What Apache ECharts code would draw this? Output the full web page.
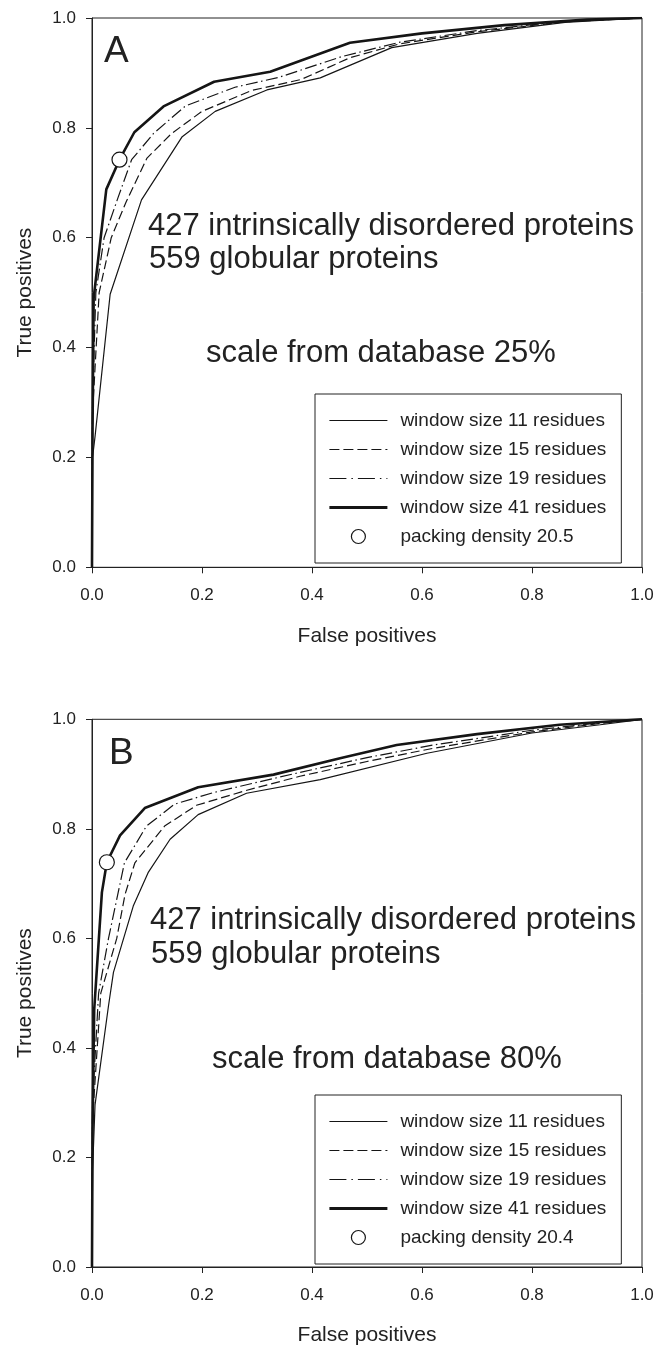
<!DOCTYPE html>
<html>
<head>
<meta charset="utf-8">
<script src="https://cdn.jsdelivr.net/npm/echarts@6/dist/echarts.min.js"></script>
<style>
html,body{margin:0;padding:0;background:#fff;}
#chart{width:668px;height:1347px;}
</style>
</head>
<body>
<div id="chart"></div>
<script>
// ---- data (x = false positives, y = true positives) ----
var seriesNames = ['window size 11 residues','window size 15 residues','window size 19 residues','window size 41 residues'];
var packingNameA = 'packing density 20.5';
var packingNameB = 'packing density 20.4';
var xTicks = [0.0, 0.2, 0.4, 0.6, 0.8, 1.0];

// Panel A (scale from database 25%)
var A_w11 = [[0,0],[0.001,0.2],[0.0055,0.238],[0.033,0.497],[0.09,0.669],[0.164,0.784],[0.224,0.830],[0.318,0.869],[0.415,0.891],[0.545,0.946],[0.7,0.972],[0.86,0.992],[1,1]];
var A_w15 = [[0,0],[0.001,0.28],[0.013,0.5],[0.035,0.6],[0.062,0.665],[0.1,0.745],[0.145,0.79],[0.2,0.83],[0.29,0.868],[0.38,0.888],[0.47,0.928],[0.56,0.953],[0.7,0.975],[0.86,0.993],[1,1]];
var A_w19 = [[0,0],[0.001,0.3],[0.007,0.5],[0.022,0.6],[0.047,0.672],[0.072,0.742],[0.112,0.79],[0.17,0.84],[0.26,0.874],[0.34,0.892],[0.455,0.93],[0.56,0.956],[0.7,0.977],[0.86,0.994],[1,1]];
var A_w41 = [[0,0],[0.001,0.25],[0.003,0.49],[0.026,0.688],[0.05,0.742],[0.077,0.792],[0.13,0.839],[0.222,0.884],[0.324,0.902],[0.469,0.955],[0.6,0.972],[0.75,0.987],[0.9,0.997],[1,1]];
var A_packing = [[0.05,0.742]];

// Panel B (scale from database 80%)
var B_w11 = [[0,0],[0.001,0.175],[0.0055,0.296],[0.03,0.477],[0.039,0.538],[0.075,0.659],[0.102,0.72],[0.142,0.781],[0.193,0.826],[0.281,0.865],[0.415,0.89],[0.609,0.938],[0.8,0.975],[0.924,0.99],[1,1]];
var B_w15 = [[0,0],[0.001,0.27],[0.016,0.5],[0.045,0.6],[0.06,0.68],[0.078,0.738],[0.132,0.805],[0.19,0.843],[0.28,0.87],[0.378,0.896],[0.5,0.923],[0.62,0.947],[0.8,0.977],[0.92,0.992],[1,1]];
var B_w19 = [[0,0],[0.001,0.3],[0.012,0.5],[0.03,0.6],[0.059,0.738],[0.099,0.805],[0.15,0.845],[0.22,0.866],[0.3,0.885],[0.378,0.903],[0.5,0.93],[0.62,0.953],[0.8,0.98],[0.92,0.993],[1,1]];
var B_w41 = [[0,0],[0.001,0.25],[0.004,0.47],[0.018,0.684],[0.027,0.739],[0.051,0.788],[0.096,0.838],[0.193,0.876],[0.33,0.899],[0.451,0.929],[0.554,0.953],[0.7,0.973],[0.85,0.99],[1,1]];
var B_packing = [[0.027,0.739]];

// ---- styles ----
var FONT = "'Liberation Sans', Arial, Helvetica, sans-serif";
var INK = '#222';
var LINE = '#151515';
var lineStyles = [
  {width:1.2, type:'solid'},
  {width:1.2, type:[9,4]},
  {width:1.2, type:[12,3.5,1.5,3.5]},
  {width:2.6, type:'solid'}
];
var legendLineStyles = [
  {width:1.2, type:'solid'},
  {width:1.2, type:[10,4]},
  {width:1.2, type:[17,5,1.5,5]},
  {width:2.8, type:'solid'}
];

function axisX(gi){
  return {
    gridIndex: gi, type:'value', min:0, max:1, interval:0.2,
    name:'False positives', nameLocation:'middle', nameGap:58,
    nameTextStyle:{fontFamily:FONT, fontSize:21, color:INK},
    axisLine:{show:true, onZero:false, lineStyle:{color:INK, width:1}},
    axisTick:{show:true, inside:false, length:6, lineStyle:{color:INK}},
    axisLabel:{show:true, margin:20, fontFamily:FONT, fontSize:17, color:INK,
      formatter:function(v){return v.toFixed(1);}},
    splitLine:{show:false}
  };
}
function axisY(gi){
  return {
    gridIndex: gi, type:'value', min:0, max:1, interval:0.2,
    name:'True positives', nameLocation:'middle', nameGap:56, nameRotate:90,
    nameTextStyle:{fontFamily:FONT, fontSize:21, color:INK},
    axisLine:{show:true, onZero:false, lineStyle:{color:INK, width:1}},
    axisTick:{show:true, inside:false, length:6, lineStyle:{color:INK}},
    axisLabel:{show:true, margin:16, fontFamily:FONT, fontSize:17, color:INK,
      formatter:function(v){return v.toFixed(1);}},
    splitLine:{show:false}
  };
}

var panelData = [[A_w11,A_w15,A_w19,A_w41],[B_w11,B_w15,B_w19,B_w41]];
var packingData = [A_packing, B_packing];
var packingNames = [packingNameA, packingNameB];

var series = [];
for (var p=0; p<2; p++){
  for (var i=0; i<4; i++){
    series.push({
      type:'line', name:seriesNames[i], xAxisIndex:p, yAxisIndex:p,
      data:panelData[p][i], symbol:'none', showSymbol:false,
      lineStyle:{color:LINE, width:lineStyles[i].width, type:lineStyles[i].type},
      itemStyle:{color:LINE},
      emphasis:{disabled:true}, silent:true, z:2+i
    });
  }
  series.push({
    type:'scatter', name:packingNames[p], xAxisIndex:p, yAxisIndex:p,
    data:packingData[p], symbol:'circle', symbolSize:15,
    itemStyle:{color:'#ffffff', borderColor:LINE, borderWidth:1.2, opacity:1},
    emphasis:{disabled:true}, silent:true, z:10
  });
}

function legendAt(top, pname){
  var items = seriesNames.map(function(n, i){
    return {name:n, itemStyle:{opacity:0},
      lineStyle:{color:LINE, width:legendLineStyles[i].width, type:legendLineStyles[i].type, opacity:1}};
  });
  items.push({name:pname, icon:'circle',
    itemStyle:{opacity:1, color:'#ffffff', borderColor:LINE, borderWidth:1.2}});
  return {
    show:true, orient:'vertical', left:315, top:top,
    padding:[17,15,17,13], itemWidth:58, itemHeight:14, itemGap:10,
    borderColor:INK, borderWidth:1, borderRadius:0, backgroundColor:'#fff',
    selectedMode:false,
    textStyle:{fontFamily:FONT, fontSize:19, color:INK, padding:[0,0,0,8]},
    data:items
  };
}

function txt(x, y, s, size){
  return {type:'text', x:x, y:y, silent:true,
    style:{text:s, font:size+'px '+FONT, fill:INK, align:'left', verticalAlign:'middle',
      textAlign:'left', textVerticalAlign:'middle'}};
}

var option = {
  animation:false,
  backgroundColor:'#ffffff',
  grid:[
    {left:92, top:18, width:550, height:549.3, show:true, borderColor:INK, borderWidth:1, backgroundColor:'transparent', containLabel:false},
    {left:92, top:719.3, width:550, height:550, show:true, borderColor:INK, borderWidth:1, backgroundColor:'transparent', containLabel:false}
  ],
  xAxis:[axisX(0), axisX(1)],
  yAxis:[axisY(0), axisY(1)],
  legend:[legendAt(394, packingNameA), legendAt(1095, packingNameB)],
  series:series,
  graphic:[
    txt(104, 52, 'A', 37),
    txt(148, 226, '427 intrinsically disordered proteins', 31),
    txt(149, 259, '559 globular proteins', 31),
    txt(206, 353, 'scale from database 25%', 31),
    txt(109, 754, 'B', 37),
    txt(150, 920, '427 intrinsically disordered proteins', 31),
    txt(151, 954.5, '559 globular proteins', 31),
    txt(212, 1059, 'scale from database 80%', 31)
  ]
};

var chart = echarts.init(document.getElementById('chart'), null, {renderer:'canvas', width:668, height:1347});
chart.setOption(option);
</script>
</body>
</html>
